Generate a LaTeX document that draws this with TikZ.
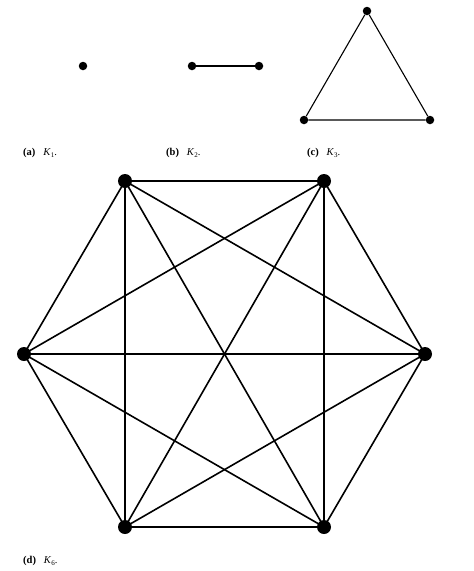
\documentclass[tikz,border=0pt]{standalone}
\usepackage{fontspec}
\setmainfont{Liberation Serif}
\newcommand{\kname}[1]{\textit{K}\raisebox{-0.35ex}{\fontsize{7}{8}\selectfont #1}.}
\begin{document}
\begin{tikzpicture}[x=1pt,y=-1pt,
  sdot/.style={circle,fill=black,inner sep=0pt,minimum size=8.5pt},
  bdot/.style={circle,fill=black,inner sep=0pt,minimum size=14pt},
  sedge/.style={line width=1.1pt},
  bedge/.style={line width=1.6pt},
  captext/.style={anchor=west,inner sep=0pt,font=\fontsize{10.5}{12}\selectfont}]
\useasboundingbox (0,0) rectangle (474,571);
% K1
\node[sdot] (a1) at (83,66) {};
% K2
\node[sdot] (b1) at (192,66) {};
\node[sdot] (b2) at (259,66) {};
\draw[sedge] (b1) -- (b2);
% K3
\node[sdot] (c1) at (367,11) {};
\node[sdot] (c2) at (304,120) {};
\node[sdot] (c3) at (430,120) {};
\draw[sedge] (c1) -- (c2) -- (c3) -- (c1);
% captions
\node[captext] (ca) at (23,153) {\textbf{(a)}\hspace{0.75em}\kname{1}};
\node[captext] (cb) at (166,153) {\textbf{(b)}\hspace{0.75em}\kname{2}};
\node[captext] (cc) at (307,153) {\textbf{(c)}\hspace{0.75em}\kname{3}};
% K6
\node[bdot] (d1) at (125,181) {};
\node[bdot] (d2) at (324,181) {};
\node[bdot] (d3) at (425,354) {};
\node[bdot] (d4) at (324,527) {};
\node[bdot] (d5) at (125,527) {};
\node[bdot] (d6) at (24,354) {};
\foreach \i/\j in {1/2,1/3,1/4,1/5,1/6,2/3,2/4,2/5,2/6,3/4,3/5,3/6,4/5,4/6,5/6}
  \draw[bedge] (d\i.center) -- (d\j.center);
\node[captext] (cd) at (23,561) {\textbf{(d)}\hspace{0.75em}\kname{6}};
\end{tikzpicture}
\end{document}
